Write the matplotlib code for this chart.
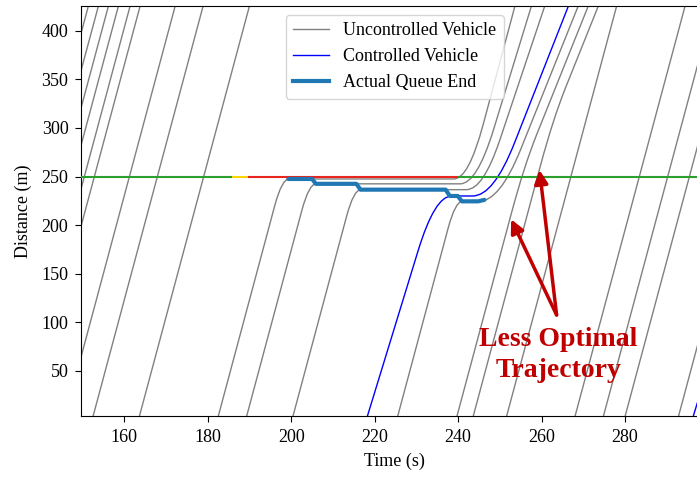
import matplotlib.pyplot as plt
from matplotlib.path import Path
from matplotlib.patches import PathPatch
from matplotlib.lines import Line2D

plt.rcParams['font.family'] = ['Liberation Serif', 'DejaVu Serif']

# --- datos ---
v_free = 16.0        # velocidad libre (m/s)
v_ctrl = 14.0        # velocidad del vehiculo controlado al llegar
d_end = 440.0
stop_line = 250.0

# vehiculos sin detenerse: instante en que pasan por d = 0
free_t0 = [124.8, 127.2, 129.6, 132.0, 134.8, 137.2, 145.6, 152.3, 163.4,
           251.4, 267.8, 274.6, 279.8, 292.6]
ctrl_free_t0 = [296.1]

# vehiculos que quedan en la cola
queue_t0 = [182.3, 189.1, 200.2, 218.0, 225.3]
queue_v_in = [16.0, 16.0, 16.0, 14.0, 16.0]
queue_stop = [247.5, 242.5, 236.5, 230.0, 224.5]
queue_stop_span = [1.7, 1.7, 1.7, 4.0, 1.7]
queue_go = [242.5, 244.5, 246.0, 248.5, 250.0]
queue_go_span = [3.5, 4.0, 4.0, 5.0, 5.0]
queue_v_out = [16.0, 14.0, 12.8, 10.9, 10.7]
queue_ctrl = [False, False, False, True, False]

# vehiculos que frenan detras de la cola que se disuelve
slow_t0 = [239.5, 243.4]
slow_t_brake = [255.8, 262.7]
slow_v = [10.7, 10.7]

# final de cola real
queue_end_t = [199.3, 205.0, 205.9, 215.6, 216.6, 237.0, 238.0, 239.9, 240.9, 244.8, 246.3]
queue_end_d = [247.5, 247.5, 242.5, 242.5, 236.5, 236.5, 230.0, 230.0, 224.5, 224.5, 226.0]

# semaforo
signal_t = [149.6, 186.0, 190.0, 240.2, 300.0]
signal_colors = ['tab:green', 'gold', '#e8251f', 'tab:green']


def trajectory(corners, spans):
    # polilinea con esquinas redondeadas (bezier cuadratica)
    verts = [corners[0]]
    codes = [Path.MOVETO]
    for i in range(1, len(corners) - 1):
        (ta, da), (tp, dp), (tb, db) = corners[i - 1], corners[i], corners[i + 1]
        r = spans[i - 1]
        verts += [(tp - r, dp - (dp - da) * r / (tp - ta)), (tp, dp),
                  (tp + r, dp + (db - dp) * r / (tb - tp))]
        codes += [Path.LINETO, Path.CURVE3, Path.CURVE3]
    verts.append(corners[-1])
    codes.append(Path.LINETO)
    return Path(verts, codes)


def draw(ax, path, color):
    ax.add_patch(PathPatch(path, fill=False, edgecolor=color, lw=1.0, zorder=2))


fig = plt.figure(figsize=(6.97, 4.78), dpi=100)
ax = fig.add_axes([81 / 697, 62 / 478, 627.5 / 697, 410 / 478])

for t0 in free_t0:
    draw(ax, trajectory([(t0, 0), (t0 + d_end / v_free, d_end)], []), 'grey')
for t0 in ctrl_free_t0:
    draw(ax, trajectory([(t0, 0), (t0 + d_end / v_ctrl, d_end)], []), 'blue')

for i in range(len(queue_t0)):
    s = queue_stop[i]
    corners = [(queue_t0[i], 0), (queue_t0[i] + s / queue_v_in[i], s), (queue_go[i], s),
               (queue_go[i] + (d_end - s) / queue_v_out[i], d_end)]
    color = 'blue' if queue_ctrl[i] else 'grey'
    draw(ax, trajectory(corners, [queue_stop_span[i], queue_go_span[i]]), color)

for i in range(len(slow_t0)):
    db = v_free * (slow_t_brake[i] - slow_t0[i])
    corners = [(slow_t0[i], 0), (slow_t_brake[i], db),
               (slow_t_brake[i] + (d_end - db) / slow_v[i], d_end)]
    draw(ax, trajectory(corners, [3.0]), 'grey')

for i in range(len(signal_colors)):
    ax.plot(signal_t[i:i + 2], [stop_line, stop_line], color=signal_colors[i], lw=1.5, zorder=3)

ax.plot(queue_end_t, queue_end_d, color='#1f77b4', lw=3, zorder=4,
        solid_joinstyle='round', solid_capstyle='round')

handles = [Line2D([], [], color='grey', lw=1),
           Line2D([], [], color='blue', lw=1),
           Line2D([], [], color='#1f77b4', lw=3)]
ax.legend(handles, ['Uncontrolled Vehicle', 'Controlled Vehicle', 'Actual Queue End'],
          loc='upper center', fontsize=13)

# anotacion
red = '#c00000'
for tip in [(252.7, 206.0), (259.5, 256.7)]:
    ax.annotate('', xy=tip, xytext=(263.6, 107.6),
                arrowprops=dict(arrowstyle='-|>', color=red, lw=2.5,
                                mutation_scale=20, shrinkA=0, shrinkB=0))
ax.text(264.0, 66.4, 'Less Optimal\nTrajectory', ha='center', va='center',
        fontsize=20, fontweight='bold', color=red, linespacing=1.3)

ax.set_xlim(149.62, 300.0)
ax.set_ylim(3.7, 425.4)
ax.set_xticks([160, 180, 200, 220, 240, 260, 280])
ax.set_yticks([50, 100, 150, 200, 250, 300, 350, 400])
ax.tick_params(labelsize=13, length=4.5, pad=4.5)
ax.set_xlabel('Time (s)', fontsize=13, labelpad=5)
ax.set_ylabel('Distance (m)', fontsize=13, labelpad=7)

fig.savefig('out.png', dpi=100)
